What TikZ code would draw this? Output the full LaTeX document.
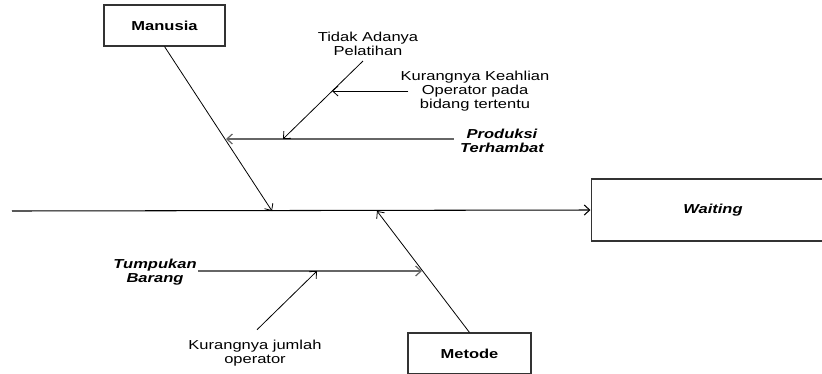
\documentclass[tikz,border=0pt]{standalone}
\usepackage{fontspec}
\setmainfont{Liberation Sans}[FakeStretch=1.27]
\usepackage{tikz}
\usetikzlibrary{arrows.meta,positioning}

\begin{document}
\begin{tikzpicture}[x=0.02cm, y=-0.02cm, every node/.style={font=\fontsize{7.4pt}{7.8pt}\selectfont}]
        \tikzstyle{box} = [rectangle, draw=black!80, line width=0.6pt, align=center]
        \tikzstyle{cause} = [align=center, inner sep=0pt]
        \tikzstyle{arrow} = [-{Straight Barb[length=1.1mm,width=2mm]}, line width=0.45pt]
        \tikzstyle{rib} = [-{Straight Barb[length=1.1mm,width=2mm]}, line width=0.7pt, black!60]

        \useasboundingbox (0,0) rectangle (822,373);

        % categories and effect
        \node (manusia) [box, minimum width=2.42cm, minimum height=0.82cm] at (164.5,25.5) {\bfseries Manusia};
        \node (metode) [box, minimum width=2.46cm, minimum height=0.82cm] at (469.5,353.5) {\bfseries Metode};
        \node (waiting) [box, minimum width=4.88cm, minimum height=1.24cm] at (713,210) {\bfseries\itshape Waiting};

        % causes
        \node (produksi) [cause] at (502,141) {\bfseries\itshape Produksi\\\bfseries\itshape Terhambat};
        \node (pelatihan) [cause] at (368,44) {Tidak Adanya\\Pelatihan};
        \node (keahlian) [cause] at (475,91) {Kurangnya Keahlian\\Operator pada\\bidang tertentu};
        \node (tumpukan) [cause] at (155,272) {\bfseries\itshape Tumpukan\\\bfseries\itshape Barang};
        \node (jumlah) [cause] at (255,353) {Kurangnya jumlah\\operator};

        % joints on the bones
        \coordinate (tail) at (12,211);
        \coordinate (headM) at (272,211);
        \coordinate (headT) at (377,211);
        \coordinate (jProduksi) at (226,139);
        \coordinate (jPelatihan) at (283,139);
        \coordinate (jKeahlian) at (332,91);
        \coordinate (jTumpukan) at (422,271);
        \coordinate (jJumlah) at (317,271);

        \draw [arrow, line width=0.6pt] (tail) -- (waiting.west);
        \draw [arrow] (manusia.south) -- (headM);
        \draw [arrow] (metode.north) -- (headT);

        \draw [rib] (produksi.west |- jProduksi) ++(-6,0) -- (jProduksi);
        \draw [arrow] (363,61) -- (jPelatihan);
        \draw [arrow] ([xshift=0.16cm]keahlian.west) -- (jKeahlian);
        \draw [rib] (tumpukan.east |- jTumpukan) ++(1,0) -- (jTumpukan);
        \draw [arrow] (jumlah.north) ++(2,-10) -- (jJumlah);
\end{tikzpicture}
\end{document}
